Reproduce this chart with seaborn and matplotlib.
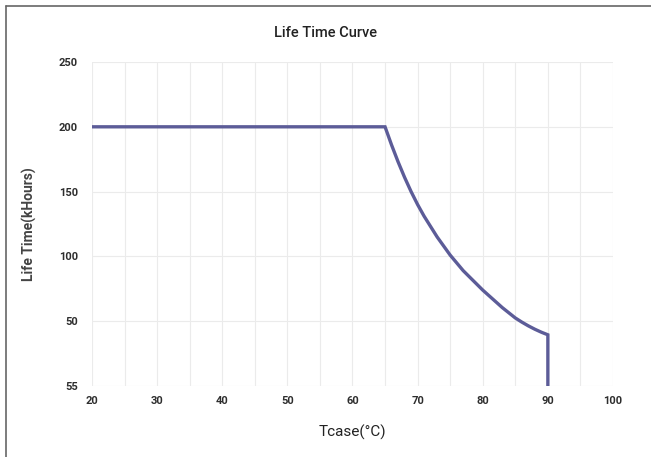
import matplotlib
matplotlib.use("Agg")
import matplotlib.pyplot as plt
from matplotlib.lines import Line2D
from matplotlib.ticker import MultipleLocator
import seaborn as sns
import pandas as pd

# values
tcase = [20, 65, 66, 67, 68, 69, 70, 71, 72, 73, 74, 75, 76, 77, 78, 79, 80,
         81, 82, 83, 84, 85, 86, 87, 88, 89, 90, 90]
life_khours = [200, 200, 186, 173, 161, 150, 140, 131, 123, 115, 108, 101, 95, 89,
               84, 79, 74, 69.5, 65, 60.5, 56.5, 52.5, 49.3, 46.4, 43.8, 41.5, 39.5, 0]

x_ticks = [20, 30, 40, 50, 60, 70, 80, 90, 100]
y_ticks = [0, 50, 100, 150, 200, 250]
y_tick_labels = ["55", "50", "100", "150", "200", "250"]

df = pd.DataFrame({"Tcase": tcase, "Life": life_khours})

sns.set_style("white")
plt.rcParams["font.family"] = ["Roboto", "DejaVu Sans"]

fig = plt.figure(figsize=(6.51, 4.57), dpi=100)
ax = fig.add_axes([0.1413, 0.1554, 0.8003, 0.7089])

sns.lineplot(data=df, x="Tcase", y="Life", sort=False, estimator=None, ax=ax,
             color="#5c5c98", linewidth=2.4, solid_joinstyle="miter")

ax.set_xlim(20, 100)
ax.set_ylim(0, 250)
ax.set_xticks(x_ticks)
ax.xaxis.set_minor_locator(MultipleLocator(5))
ax.set_yticks(y_ticks)
ax.set_yticklabels(y_tick_labels)
ax.grid(which="both", axis="x", color="#ebebeb", linewidth=0.8)
ax.grid(which="major", axis="y", color="#ebebeb", linewidth=0.8)
ax.set_axisbelow(True)
for s in ax.spines.values():
    s.set_visible(False)

ax.tick_params(axis="both", which="both", length=0, labelsize=8,
               labelcolor="#2e2e2e")
ax.tick_params(axis="x", pad=7)
ax.tick_params(axis="y", pad=10)
for lbl in ax.get_xticklabels() + ax.get_yticklabels():
    lbl.set_fontweight("semibold")

ax.set_xlabel("Tcase(°C)", fontsize=11, color="#222222", labelpad=14)
ax.set_ylabel("Life Time(kHours)", fontsize=10, fontweight="bold",
              color="#444444", labelpad=16)
fig.text(0.5, 0.928, "Life Time Curve", ha="center", va="center",
         fontsize=10.5, fontweight="medium", color="#222222")

# frame edges visible in the reference (top and left only)
fig.add_artist(Line2D([0.009, 1.0], [0.987, 0.987], color="#666666",
                      linewidth=1.2, transform=fig.transFigure))
fig.add_artist(Line2D([0.009, 0.009], [0.0, 0.987], color="#666666",
                      linewidth=1.2, transform=fig.transFigure))

fig.savefig("out.png", dpi=100)
